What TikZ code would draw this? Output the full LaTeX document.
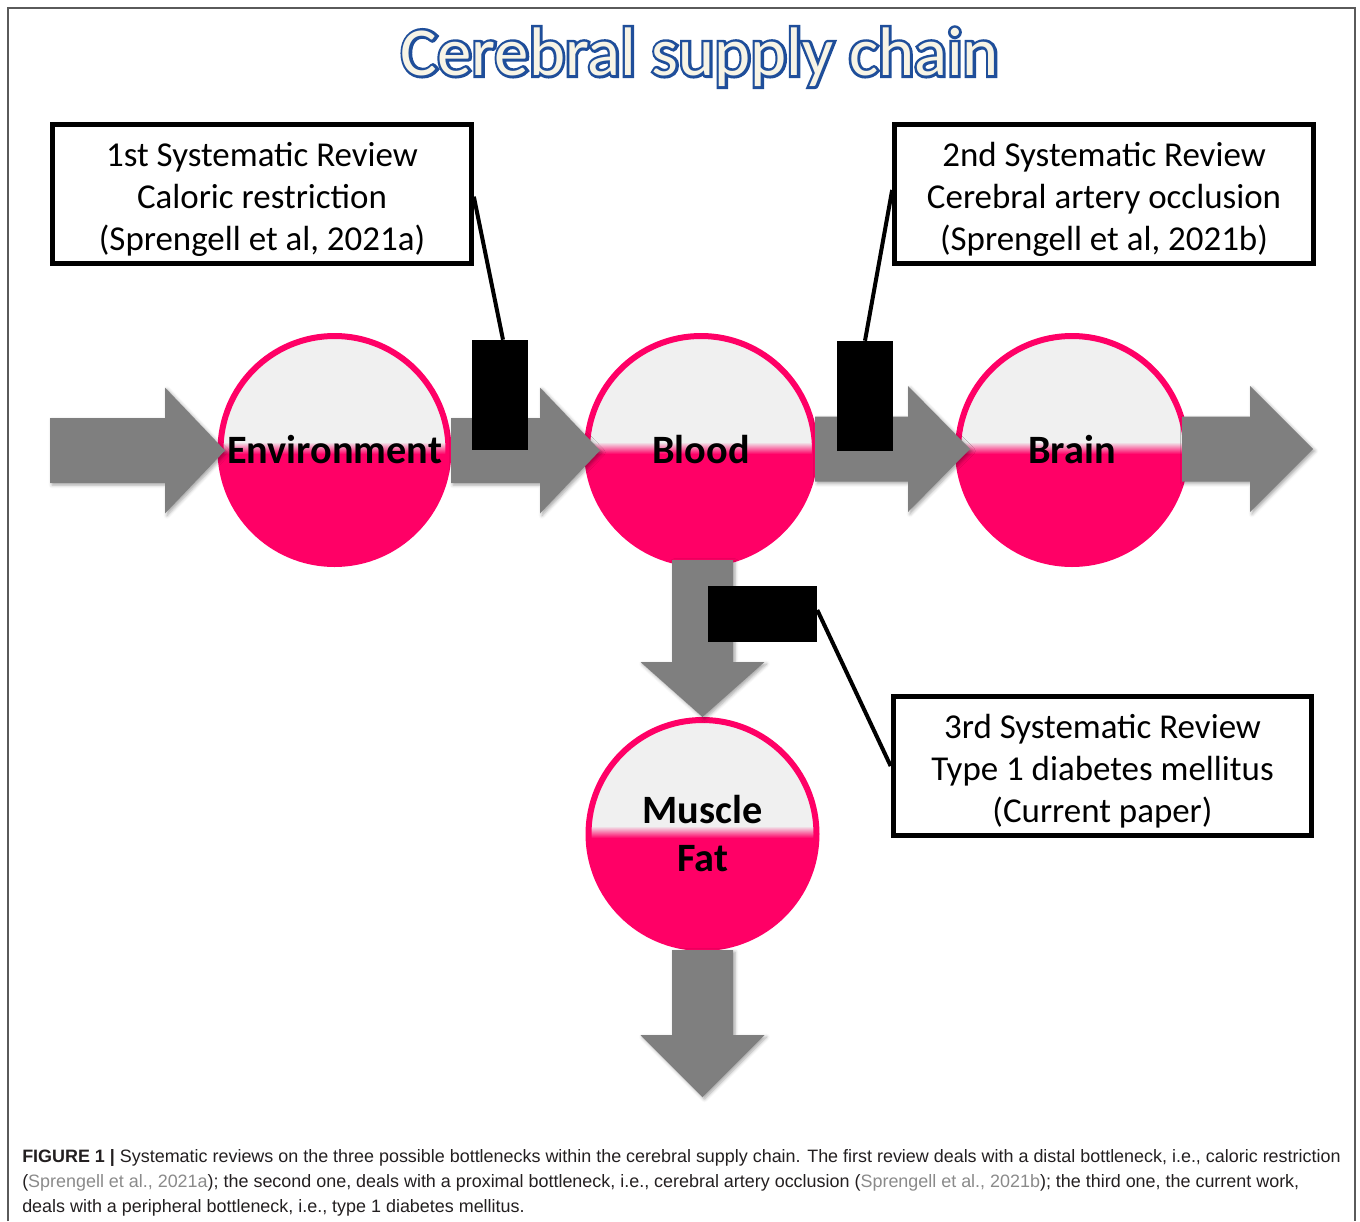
\documentclass[tikz,border=0pt]{standalone}
\usepackage{fontspec}
\setmainfont{Carlito}
\newfontfamily\capfont{Liberation Sans}
\newfontfamily\titlestroke[FakeBold=8]{Carlito}
\usetikzlibrary{calc,shadows.blur}

\definecolor{pinkc}{HTML}{FF0066}
\definecolor{topgray}{HTML}{F0F0F0}
\definecolor{arrowgray}{HTML}{7F7F7F}
\definecolor{titleblue}{HTML}{1F4E9A}
\definecolor{titlefill}{HTML}{F7F4E6}
\definecolor{captext}{HTML}{231F20}
\definecolor{citegray}{HTML}{8A8A8A}
\definecolor{framegray}{HTML}{5A5A5A}

% horizontal block arrow: shaft start, head base, tip, centre line
\newcommand\flowH[4]{%
  \fill[flow] (#1,#4-32.5) -- (#2,#4-32.5) -- (#2,#4-63) -- (#3,#4)
    -- (#2,#4+63) -- (#2,#4+32.5) -- (#1,#4+32.5) -- cycle;}
% vertical block arrow: centre line, shaft start, head base, tip
\newcommand\flowV[4]{%
  \fill[flow] (#1-30.5,#2) -- (#1-30.5,#3) -- (#1-62,#3) -- (#1,#4)
    -- (#1+62,#3) -- (#1+30.5,#3) -- (#1+30.5,#2) -- cycle;}
% three centred lines, set a little below the middle of their box
\newcommand\reviewlines[1]{%
  \raisebox{-4.5pt}[\height][\depth]{\begin{tabular}{@{}c@{}}#1\end{tabular}}}

\begin{document}
\begin{tikzpicture}[x=0.75pt,y=-0.75pt,
  flow/.style={fill=arrowgray, blur shadow={shadow xshift=1.5pt,
      shadow yshift=-1.5pt, shadow blur radius=2.5pt, shadow opacity=35}},
  stage/.style={circle, inner sep=0pt, minimum size=171pt, draw=pinkc,
      line width=4.5pt, align=center,
      font=\fontsize{30.2}{36}\selectfont\bfseries,
      path picture={
        \fill[topgray] (path picture bounding box.north west)
          rectangle ([yshift=6pt]path picture bounding box.east);
        \shade[top color=topgray, bottom color=pinkc]
          ([yshift=6pt]path picture bounding box.west)
          rectangle ([yshift=-3pt]path picture bounding box.east);
        \fill[pinkc] ([yshift=-3pt]path picture bounding box.west)
          rectangle (path picture bounding box.south east);
      }},
  review/.style={draw=black, line width=3.75pt, minimum width=314pt,
      minimum height=104pt, inner sep=0pt,
      font=\fontsize{26.2}{31.5}\selectfont},
  block/.style={fill=black, inner sep=0pt},
  lead/.style={line width=3pt, black},
  titletext/.style={font=\fontsize{51.5}{60}\selectfont, inner sep=0pt},
  captionline/.style={anchor=base west, inner sep=0pt, text=captext,
      font=\capfont\fontsize{13.45}{15}\selectfont},
]
\useasboundingbox (0,0) rectangle (1360,1221);

% outer frame (open at the bottom)
\coordinate (fbl) at (8,1221);
\coordinate (ftl) at (8,8);
\coordinate (ftr) at (1355,8);
\coordinate (fbr) at (1355,1221);
\draw[framegray, line width=1.5pt] (fbl) -- (ftl) -- (ftr) -- (fbr);

% title: stroked blue outline under a cream fill
\coordinate (titlepos) at (700,57);
\node[titletext, text=titleblue] (titleedge) at (titlepos)
  {\titlestroke Cerebral supply chain};
\node[titletext, text=titlefill] (title) at (titlepos) {Cerebral supply chain};

% compartments
\node[stage] (env)    at (334.5,450) {Environment};
\node[stage] (blood)  at (701,450)   {Blood};
\node[stage] (brain)  at (1072,450)  {Brain};
\node[stage] (muscle) at (702.5,834) {Muscle\\Fat};

% flow arrows
\flowH{50}{165}{225}{450.5}
\flowH{451}{540}{600}{450.5}
\flowH{815}{908}{970}{449}
\flowH{1182}{1250}{1313}{449}
\flowV{702.5}{560}{662}{717}
\flowV{702.5}{950}{1035}{1097}

% bottlenecks
\node[block, minimum width=42pt, minimum height=82.5pt] (b1) at (500,395) {};
\node[block, minimum width=42pt, minimum height=82.5pt] (b2) at (865,396) {};
\node[block, minimum width=81.75pt, minimum height=42pt] (b3) at (762.5,614) {};

% reviews
\node[review] (r1) at (262,194) {\reviewlines{1st Systematic Review\\Caloric restriction\\(Sprengell et al, 2021a)}};
\node[review] (r2) at (1104,194) {\reviewlines{2nd Systematic Review\\Cerebral artery occlusion\\(Sprengell et al, 2021b)}};
\node[review] (r3) at (1102.5,766) {\reviewlines{3rd Systematic Review\\Type 1 diabetes mellitus\\(Current paper)}};

\draw[lead] ([yshift=-2pt]r1.east) -- ([xshift=2.25pt]b1.north);
\draw[lead] ([yshift=3pt]r2.west) -- (b2.north);
\draw[lead] ([yshift=3pt]b3.east) -- (r3.west);

% caption
\node[captionline] (cap1) at (22,1162) {\textbf{FIGURE 1 |} Systematic reviews on the three possible bottlenecks within the cerebral supply chain. The first review deals with a distal bottleneck, i.e., caloric restriction};
\node[captionline] (cap2) at (22,1187) {({\color{citegray}Sprengell et al., 2021a}); the second one, deals with a proximal bottleneck, i.e., cerebral artery occlusion ({\color{citegray}Sprengell et al., 2021b}); the third one, the current work,};
\node[captionline] (cap3) at (22,1212) {deals with a peripheral bottleneck, i.e., type 1 diabetes mellitus.};
\end{tikzpicture}
\end{document}
